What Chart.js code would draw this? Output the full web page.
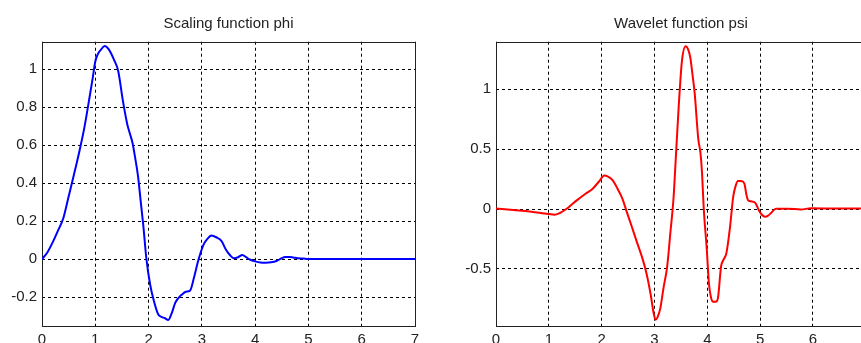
<!DOCTYPE html>
<html>
<head>
<meta charset="utf-8">
<script src="https://cdn.jsdelivr.net/npm/chart.js@4"></script>
<style>
    body { margin: 0; background: #fff; }
    #esquerda { position: absolute; left: 0; top: 0; width: 430px; height: 343px; }
    #direita { position: absolute; left: 430px; top: 0; width: 431px; height: 343px; overflow: hidden; }
</style>
</head>
<body>
<div id="esquerda"><canvas id="graficoPhi" width="430" height="343"></canvas></div>
<div id="direita"><canvas id="graficoPsi" width="445" height="343"></canvas></div>
<script>
// valores (db4)
const xTicks = [0, 1, 2, 3, 4, 5, 6, 7];
const phiYTicks = [-0.2, 0, 0.2, 0.4, 0.6, 0.8, 1];
const psiYTicks = [-0.5, 0, 0.5, 1];

const phiX = [0, 0.1, 0.2, 0.3, 0.4, 0.5, 0.6, 0.7, 0.8, 0.9, 0.95, 1.0, 1.05, 1.1, 1.18, 1.25, 1.35, 1.43, 1.52, 1.6,
    1.65, 1.7, 1.75, 1.8, 1.85, 1.9, 1.96, 2.03, 2.1, 2.18, 2.25, 2.3, 2.37, 2.44, 2.5, 2.56, 2.62, 2.7, 2.78, 2.85,
    2.93, 3.03, 3.1, 3.18, 3.27, 3.37, 3.45, 3.53, 3.6, 3.68, 3.76, 3.83, 3.9, 4.0, 4.1, 4.2, 4.3, 4.4, 4.5, 4.56,
    4.65, 4.71, 4.8, 4.9, 5.0, 6.0, 7.0];
const phiY = [0, 0.035, 0.088, 0.15, 0.215, 0.33, 0.445, 0.565, 0.70, 0.865, 0.95, 1.04, 1.08, 1.10, 1.122, 1.105, 1.05, 0.99, 0.83, 0.71,
    0.66, 0.61, 0.53, 0.44, 0.31, 0.18, 0.0, -0.135, -0.22, -0.29, -0.305, -0.31, -0.32, -0.28, -0.23, -0.205, -0.188, -0.172, -0.165, -0.10,
    -0.01, 0.075, 0.105, 0.124, 0.115, 0.095, 0.05, 0.02, 0.005, 0.01, 0.022, 0.01, -0.002, -0.012, -0.018, -0.019, -0.017, -0.01, 0.005, 0.011,
    0.011, 0.009, 0.005, 0.003, 0, 0, 0];

const psiX = [0, 0.33, 0.64, 0.85, 1.0, 1.11, 1.2, 1.33, 1.45, 1.58, 1.7, 1.83, 1.95, 2.05, 2.12, 2.21, 2.3, 2.39, 2.48, 2.58,
    2.67, 2.77, 2.85, 2.93, 2.98, 3.02, 3.06, 3.11, 3.17, 3.24, 3.3, 3.36, 3.41, 3.46, 3.52, 3.59, 3.64, 3.68, 3.72, 3.76,
    3.83, 3.87, 3.9, 3.93, 3.99, 4.03, 4.07, 4.11, 4.16, 4.2, 4.26, 4.31, 4.36, 4.43, 4.49, 4.54, 4.58, 4.64, 4.7, 4.74, 4.77,
    4.82, 4.9, 4.99, 5.05, 5.1, 5.15, 5.2, 5.3, 5.52, 5.77, 5.96, 6.5, 7.0];
const psiY = [0.005, -0.008, -0.02, -0.033, -0.042, -0.048, -0.035, 0.0, 0.045, 0.09, 0.13, 0.17, 0.23, 0.28, 0.27, 0.24, 0.17, 0.09, -0.03, -0.16,
    -0.28, -0.41, -0.54, -0.72, -0.86, -0.925, -0.9, -0.83, -0.66, -0.48, -0.2, 0.09, 0.48, 0.87, 1.24, 1.36, 1.33, 1.26, 1.12, 0.97,
    0.58, 0.47, 0.3, 0.02, -0.34, -0.62, -0.74, -0.775, -0.775, -0.746, -0.48, -0.42, -0.37, -0.148, 0.103, 0.2, 0.235, 0.235, 0.215, 0.12, 0.075,
    0.065, 0.055, -0.022, -0.055, -0.064, -0.055, -0.036, 0.003, 0.003, -0.003, 0.006, 0.005, 0.005];

const fonte = { family: '"Liberation Sans", Arial, sans-serif', size: 15 };

// caixa em volta do grafico (estilo matlab)
const caixa = {
    id: 'caixa',
    beforeDatasetsDraw(chart) {
        const a = chart.chartArea;
        const c = chart.ctx;
        c.save();
        c.strokeStyle = '#222';
        c.lineWidth = 1;
        c.strokeRect(Math.round(a.left) + 0.5, Math.round(a.top) + 0.5,
            Math.round(a.right - a.left), Math.round(a.bottom - a.top));
        c.restore();
    }
};

function montarGrafico(id, titulo, xs, ys, cor, yTicks, yMin, yMax, larguraY, padDireita) {
    const ctx = document.getElementById(id);
    return new Chart(ctx, {
        type: 'line',
        data: {
            datasets: [{
                data: xs.map((x, i) => ({ x: x, y: ys[i] })),
                borderColor: cor,
                borderWidth: 2,
                pointRadius: 0,
                cubicInterpolationMode: 'monotone',
                fill: false
            }]
        },
        options: {
            responsive: false,
            animation: false,
            layout: { padding: { left: 0, right: padDireita, top: 0, bottom: 0 } },
            plugins: {
                legend: { display: false },
                tooltip: { enabled: false },
                title: {
                    display: true,
                    text: titulo,
                    fullSize: false,
                    color: '#222',
                    font: { family: fonte.family, size: 15, weight: 'normal' },
                    padding: { top: 15, bottom: 8.7 }
                }
            },
            scales: {
                x: {
                    type: 'linear',
                    min: 0,
                    max: 7,
                    afterBuildTicks: (s) => { s.ticks = xTicks.map(v => ({ value: v })); },
                    afterFit: (s) => { s.height = 17; },
                    grid: { color: '#000', lineWidth: 1, drawTicks: false },
                    border: { display: false, dash: [3, 3] },
                    ticks: { color: '#222', font: fonte, padding: 5, autoSkip: false, maxRotation: 0 }
                },
                y: {
                    type: 'linear',
                    min: yMin,
                    max: yMax,
                    afterBuildTicks: (s) => { s.ticks = yTicks.map(v => ({ value: v })); },
                    afterFit: (s) => { s.width = larguraY; },
                    grid: { color: '#000', lineWidth: 1, drawTicks: false },
                    border: { display: false, dash: [3, 3] },
                    ticks: { color: '#222', font: fonte, padding: 5, callback: (v) => String(v) }
                }
            }
        },
        plugins: [caixa]
    });
}

montarGrafico('graficoPhi', 'Scaling function phi', phiX, phiY, '#0000ff', phiYTicks, -0.352, 1.144, 42, 15);
montarGrafico('graficoPsi', 'Wavelet function psi', psiX, psiY, '#ff0000', psiYTicks, -0.977, 1.398, 66, 6);
</script>
</body>
</html>
